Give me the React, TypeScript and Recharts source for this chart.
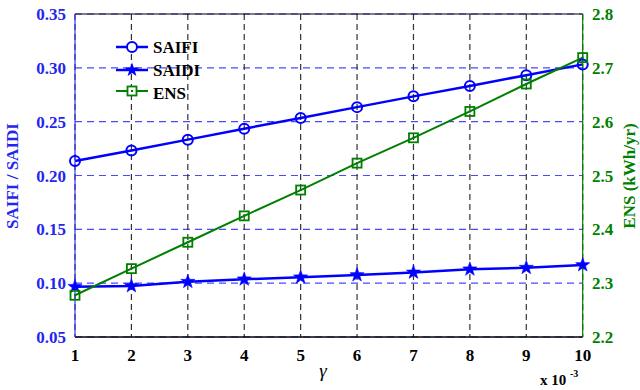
import React from "react";
import { LineChart, Line, XAxis, YAxis, CartesianGrid, ReferenceLine, Customized } from "recharts";

const gammaValues = [1, 2, 3, 4, 5, 6, 7, 8, 9, 10];
const saifiValues = [0.2135, 0.2233, 0.2333, 0.2435, 0.2535, 0.2635, 0.2735, 0.2832, 0.2932, 0.3032];
const saidiValues = [0.0967, 0.0974, 0.1014, 0.1036, 0.1055, 0.1076, 0.11, 0.1129, 0.1144, 0.1169];
const ensValues = [2.2775, 2.327, 2.376, 2.425, 2.473, 2.523, 2.57, 2.619, 2.67, 2.719];
const leftTicks = [0.05, 0.1, 0.15, 0.2, 0.25, 0.3, 0.35];
const rightTicks = [2.2, 2.3, 2.4, 2.5, 2.6, 2.7, 2.8];
const xTicks = [1, 2, 3, 4, 5, 6, 7, 8, 9, 10];

const data = gammaValues.map((g, i) => ({
  gamma: g,
  saifi: saifiValues[i],
  saidi: saidiValues[i],
  ens: ensValues[i],
}));

const FONT = "'Liberation Serif', 'Times New Roman', serif";
const BLUE = "#0000ff";
const LBLUE = "#2525f0";
const GREEN = "#007f00";

const starPath = (cx: number, cy: number, R: number) => {
  const r = R * 0.4;
  const pts: string[] = [];
  for (let k = 0; k < 10; k++) {
    const ang = -Math.PI / 2 + (k * Math.PI) / 5;
    const rad = k % 2 === 0 ? R : r;
    pts.push(`${cx + rad * Math.cos(ang)},${cy + rad * Math.sin(ang)}`);
  }
  return "M" + pts.join("L") + "Z";
};

const CircleDot = (p: any) => (
  <circle key={`c${p.index}`} cx={p.cx} cy={p.cy} r={5} fill="none" stroke={BLUE} strokeWidth={2} />
);
const StarDot = (p: any) => (
  <path key={`s${p.index}`} d={starPath(p.cx, p.cy, 7.5)} fill={BLUE} stroke={BLUE} strokeWidth={0.5} />
);
const SquareDot = (p: any) => (
  <g key={`q${p.index}`}>
    <rect x={p.cx - 4.5} y={p.cy - 4.5} width={9} height={9} fill="none" stroke={GREEN} strokeWidth={1.8} />
    <rect x={p.cx - 1} y={p.cy - 1} width={2} height={2} fill={GREEN} />
  </g>
);

const LeftTick = (p: any) => (
  <text x={66} y={p.y + 6} textAnchor="end" fontFamily={FONT} fontWeight="bold" fontSize={17} fill={LBLUE}>
    {Number(p.payload.value).toFixed(2)}
  </text>
);
const RightTick = (p: any) => (
  <text x={592} y={p.y + 6} textAnchor="start" fontFamily={FONT} fontWeight="bold" fontSize={17} fill={GREEN}>
    {Number(p.payload.value).toFixed(1)}
  </text>
);
const BottomTick = (p: any) => (
  <text x={p.x} y={361} textAnchor="middle" fontFamily={FONT} fontWeight="bold" fontSize={17} fill="#000">
    {p.payload.value}
  </text>
);

const Overlay = () => (
  <g>
    <text
      transform="translate(18,176) rotate(-90)"
      textAnchor="middle"
      fontFamily={FONT}
      fontWeight="bold"
      fontSize={17}
      fill={LBLUE}
    >
      SAIFI / SAIDI
    </text>
    <text
      transform="translate(635,176) rotate(-90)"
      textAnchor="middle"
      fontFamily={FONT}
      fontWeight="bold"
      fontSize={17}
      fill={GREEN}
    >
      ENS (kWh/yr)
    </text>
    <text x={323} y={377} textAnchor="middle" fontFamily={FONT} fontStyle="italic" fontSize={19} fill="#000">
      γ
    </text>
    <text x={540} y={385} fontFamily={FONT} fontWeight="bold" fontSize={15} fill="#000">
      x 10
    </text>
    <text x={570} y={377} fontFamily={FONT} fontWeight="bold" fontSize={10} fill="#000">
      -3
    </text>
    {/* legend */}
    <g>
      <line x1={116} y1={47} x2={148} y2={47} stroke={BLUE} strokeWidth={2.5} />
      <circle cx={132} cy={47} r={5} fill="#fff" stroke={BLUE} strokeWidth={2} />
      <text x={153} y={53} fontFamily={FONT} fontWeight="bold" fontSize={17} fill="#000">SAIFI</text>
      <line x1={116} y1={70} x2={148} y2={70} stroke={BLUE} strokeWidth={2.5} />
      <path d={starPath(132, 70, 7.5)} fill={BLUE} />
      <text x={153} y={76} fontFamily={FONT} fontWeight="bold" fontSize={17} fill="#000">SAIDI</text>
      <line x1={116} y1={91} x2={148} y2={91} stroke={GREEN} strokeWidth={2} />
      <rect x={127.5} y={86.5} width={9} height={9} fill="#fff" stroke={GREEN} strokeWidth={1.8} />
      <rect x={131} y={90} width={2} height={2} fill={GREEN} />
      <text x={153} y={99} fontFamily={FONT} fontWeight="bold" fontSize={17} fill="#000">ENS</text>
    </g>
  </g>
);

export default function App() {
  return (
    <div style={{ position: "absolute", left: 0, top: 0, width: 640, height: 390, background: "#fff" }}>
      <LineChart
        width={640}
        height={390}
        data={data}
        margin={{ top: 14, right: 0, bottom: 0, left: 0 }}
      >
        <CartesianGrid
          yAxisId="left"
          horizontal={true}
          vertical={false}
          stroke="#4a4aff"
          strokeDasharray="7 5"
          strokeWidth={1.2}
        />
        <CartesianGrid
          yAxisId="left"
          horizontal={false}
          vertical={true}
          stroke="#333"
          strokeDasharray="6 4"
          strokeWidth={1.2}
        />
        <XAxis
          dataKey="gamma"
          type="number"
          domain={[1, 10]}
          ticks={xTicks}
          height={53}
          axisLine={{ stroke: "#000", strokeWidth: 1.5 }}
          tickLine={false}
          tick={<BottomTick />}
          interval={0}
        />
        <YAxis
          yAxisId="left"
          orientation="left"
          domain={[0.05, 0.35]}
          ticks={leftTicks}
          width={75}
          axisLine={{ stroke: "#3535ff", strokeWidth: 1.2 }}
          tickLine={false}
          tick={<LeftTick />}
          interval={0}
        />
        <YAxis
          yAxisId="right"
          orientation="right"
          domain={[2.2, 2.8]}
          ticks={rightTicks}
          width={57.3}
          axisLine={{ stroke: GREEN, strokeWidth: 1.2 }}
          tickLine={false}
          tick={<RightTick />}
          interval={0}
        />
        <ReferenceLine yAxisId="left" y={0.35} stroke="#000" strokeWidth={1.2} />
        <Line
          yAxisId="left"
          dataKey="saifi"
          stroke={BLUE}
          strokeWidth={2.5}
          dot={CircleDot}
          isAnimationActive={false}
        />
        <Line
          yAxisId="left"
          dataKey="saidi"
          stroke={BLUE}
          strokeWidth={2.5}
          dot={StarDot}
          isAnimationActive={false}
        />
        <Line
          yAxisId="right"
          dataKey="ens"
          stroke={GREEN}
          strokeWidth={2}
          dot={SquareDot}
          isAnimationActive={false}
        />
        <Customized component={<Overlay />} />
      </LineChart>
    </div>
  );
}
